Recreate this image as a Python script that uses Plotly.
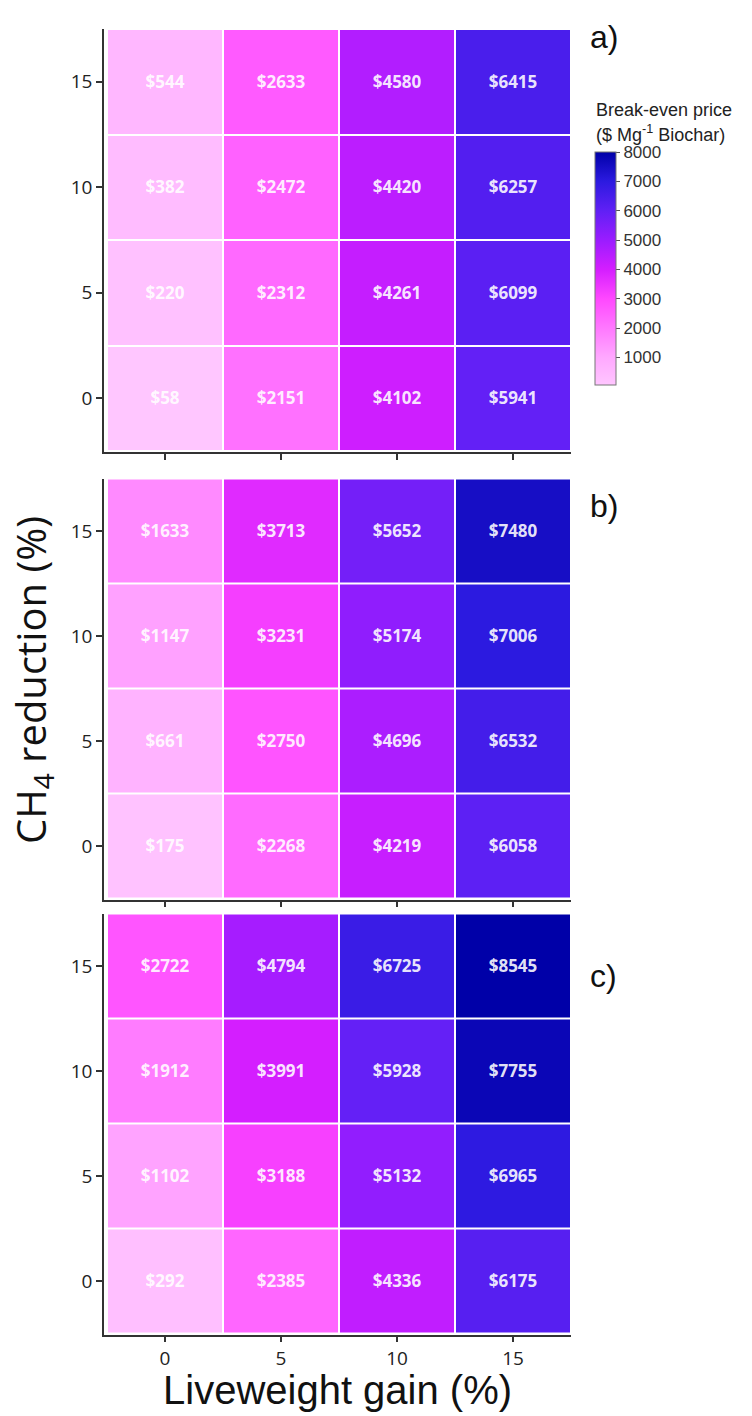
import plotly.graph_objects as go

# Grid axes (%)
liveweight_gain = [0, 5, 10, 15]
ch4_reduction = [0, 5, 10, 15]

# Break-even price ($ Mg-1 biochar); rows follow ch4_reduction (0, 5, 10, 15)
price_a = [
    [58, 2151, 4102, 5941],
    [220, 2312, 4261, 6099],
    [382, 2472, 4420, 6257],
    [544, 2633, 4580, 6415],
]
price_b = [
    [175, 2268, 4219, 6058],
    [661, 2750, 4696, 6532],
    [1147, 3231, 5174, 7006],
    [1633, 3713, 5652, 7480],
]
price_c = [
    [292, 2385, 4336, 6175],
    [1102, 3188, 5132, 6965],
    [1912, 3991, 5928, 7755],
    [2722, 4794, 6725, 8545],
]
panel_labels = ["a)", "b)", "c)"]
colorbar_ticks = [1000, 2000, 3000, 4000, 5000, 6000, 7000, 8000]

W, H = 752, 1416
CMIN, CMAX = 58, 8000


def px_x(p):
    return p / W


def px_y(p):
    return 1 - p / H


# colour stops by price
stops = [
    (58, "#FFC6FF"),
    (1000, "#FFA8FF"),
    (2000, "#FF78FF"),
    (3000, "#FF48FF"),
    (4000, "#D41EFF"),
    (5000, "#9A1CFF"),
    (6000, "#6020F5"),
    (7000, "#2C1AE0"),
    (8000, "#0000A8"),
]
colorscale = [[(v - CMIN) / (CMAX - CMIN), c] for v, c in stops]

# panel geometry in pixels: (top, bottom of cells, axis line)
panels = [
    (29, 451, 452),
    (478.5, 898.5, 899.5),
    (913.5, 1333.5, 1334.5),
]
x_left_line, x_left_cell, x_right = 104, 107, 571
unit_x = (x_right - x_left_cell) / 20.0

fig = go.Figure()
for i, (z, (top, bot, line)) in enumerate(zip([price_a, price_b, price_c], panels)):
    suffix = "" if i == 0 else str(i + 1)
    text = [["$" + str(v) for v in row] for row in z]
    fig.add_trace(go.Heatmap(
        x=liveweight_gain, y=ch4_reduction, z=z,
        text=text, texttemplate="%{text}",
        textfont=dict(family="Open Sans", size=17, color="rgba(255,255,255,0.9)", weight=700),
        coloraxis="coloraxis", xgap=2, ygap=2,
        xaxis="x" + suffix, yaxis="y" + suffix,
        hoverinfo="skip",
    ))
    unit_y = (bot - top) / 20.0
    xr = [-2.5 - (x_left_cell - x_left_line) / unit_x, 17.5]
    yr = [-2.5 - (line - bot) / unit_y, 17.5]
    common = dict(
        showgrid=False, zeroline=False, showline=True, linecolor="#333333", linewidth=1.5,
        ticks="outside", ticklen=6, tickwidth=1.5, tickcolor="#333333",
        tickfont=dict(family="Open Sans", size=19, color="#222222"),
    )
    fig.update_layout(**{
        "xaxis" + suffix: dict(
            domain=[px_x(x_left_line), px_x(x_right)], range=xr,
            tickvals=liveweight_gain, showticklabels=(i == 2),
            anchor="y" + suffix, **common),
        "yaxis" + suffix: dict(
            domain=[px_y(line), px_y(top)], range=yr,
            tickvals=ch4_reduction, anchor="x" + suffix, **common),
    })

fig.update_layout(
    width=W, height=H,
    margin=dict(l=0, r=0, t=0, b=0),
    paper_bgcolor="white", plot_bgcolor="white",
    showlegend=False,
    coloraxis=dict(
        colorscale=colorscale, cmin=CMIN, cmax=CMAX,
        colorbar=dict(
            x=px_x(595), xanchor="left", xpad=0,
            y=px_y(152), yanchor="top", ypad=0,
            lenmode="pixels", len=233,
            thicknessmode="pixels", thickness=21,
            outlinewidth=1, outlinecolor="#777777",
            tickvals=colorbar_ticks, ticks="outside", ticklen=4, tickcolor="#555555",
            tickfont=dict(family="Liberation Sans", size=17, color="#333333"),
        ),
    ),
)

annotations = [
    dict(text="Liveweight gain (%)", x=px_x(337), y=px_y(1390), xanchor="center", yanchor="middle",
         font=dict(family="Liberation Sans", size=40, color="#111111")),
    dict(text="CH<sub>4</sub> reduction (%)", x=px_x(32), y=px_y(680), textangle=-90,
         xanchor="center", yanchor="middle",
         font=dict(family="Open Sans", size=40, color="#111111")),
    dict(text="Break-even price", x=px_x(594), y=px_y(110), xanchor="left", yanchor="middle",
         font=dict(family="Liberation Sans", size=18, color="#222222")),
    dict(text="($ Mg<sup>-1</sup> Biochar)", x=px_x(594), y=px_y(133), xanchor="left", yanchor="middle",
         font=dict(family="Liberation Sans", size=18, color="#222222")),
]
for lab, yc in zip(panel_labels, [37, 506, 976]):
    annotations.append(dict(text=lab, x=px_x(588), y=px_y(yc), xanchor="left", yanchor="middle",
                            font=dict(family="Liberation Sans", size=32, color="#111111")))
for a in annotations:
    a.update(xref="paper", yref="paper", showarrow=False)
fig.update_layout(annotations=annotations)

fig.write_html("out.html")
